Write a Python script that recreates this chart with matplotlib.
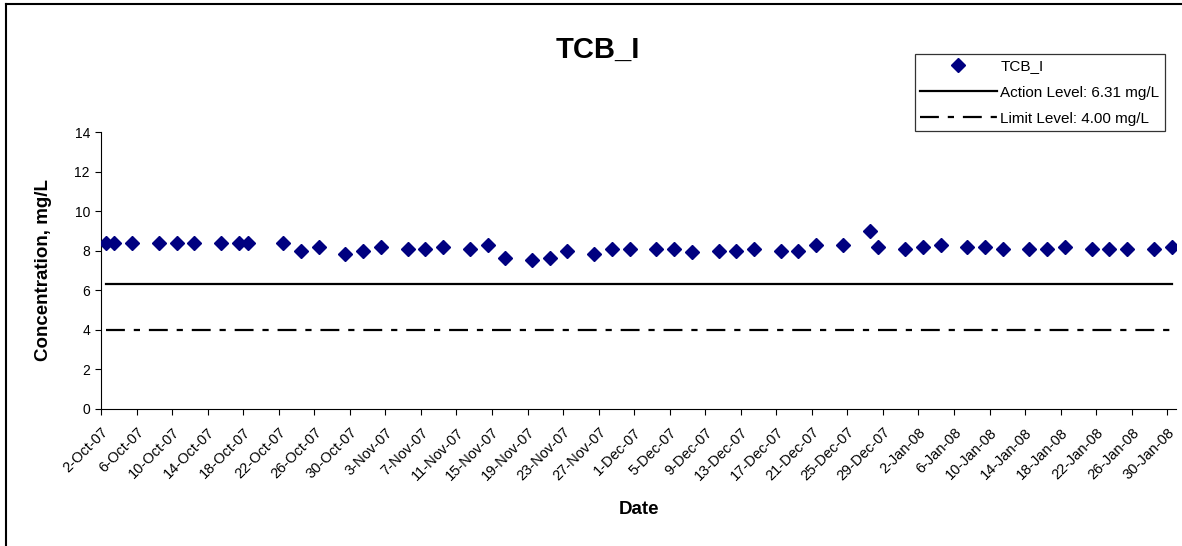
import datetime as dt
import matplotlib
matplotlib.use("Agg")
import matplotlib.pyplot as plt
from matplotlib.lines import Line2D

plt.rcParams['font.family'] = ['Liberation Sans', 'DejaVu Sans']

# sample dates and TCB_I concentrations (mg/L)
sample_dates = [
    "2007-10-02", "2007-10-03", "2007-10-05", "2007-10-08", "2007-10-10",
    "2007-10-12", "2007-10-15", "2007-10-17", "2007-10-18", "2007-10-22",
    "2007-10-24", "2007-10-26", "2007-10-29", "2007-10-31", "2007-11-02",
    "2007-11-05", "2007-11-07", "2007-11-09", "2007-11-12", "2007-11-14",
    "2007-11-16", "2007-11-19", "2007-11-21", "2007-11-23", "2007-11-26",
    "2007-11-28", "2007-11-30", "2007-12-03", "2007-12-05", "2007-12-07",
    "2007-12-10", "2007-12-12", "2007-12-14", "2007-12-17", "2007-12-19",
    "2007-12-21", "2007-12-24", "2007-12-27", "2007-12-28", "2007-12-31",
    "2008-01-02", "2008-01-04", "2008-01-07", "2008-01-09", "2008-01-11",
    "2008-01-14", "2008-01-16", "2008-01-18", "2008-01-21", "2008-01-23",
    "2008-01-25", "2008-01-28", "2008-01-30",
]
tcb_values = [
    8.4, 8.4, 8.4, 8.4, 8.4,
    8.4, 8.4, 8.4, 8.4, 8.4,
    8.0, 8.2, 7.8, 8.0, 8.2,
    8.1, 8.1, 8.2, 8.1, 8.3,
    7.6, 7.5, 7.6, 8.0, 7.8,
    8.1, 8.1, 8.1, 8.1, 7.9,
    8.0, 8.0, 8.1, 8.0, 8.0,
    8.3, 8.3, 9.0, 8.2, 8.1,
    8.2, 8.3, 8.2, 8.2, 8.1,
    8.1, 8.1, 8.2, 8.1, 8.1,
    8.1, 8.1, 8.2,
]
action_level = 6.31
limit_level = 4.00
axis_start = "2007-10-02"
axis_end = "2008-01-31"
tick_step_days = 4

# Excel date axis puts each point in the middle of its day
dates = [dt.datetime.strptime(d, "%Y-%m-%d") + dt.timedelta(hours=12) for d in sample_dates]
x_min = dt.datetime.strptime(axis_start, "%Y-%m-%d")
x_max = dt.datetime.strptime(axis_end, "%Y-%m-%d")

fig = plt.figure(figsize=(11.82, 5.46), dpi=100)
ax = fig.add_axes([0.0855, 0.2518, 0.9095, 0.5064])

ax.plot(dates, tcb_values, linestyle='none', marker='D', markersize=7,
        color='#000080', label='TCB_I', zorder=3)
ax.plot([dates[0], dates[-1]], [action_level, action_level], color='black',
        lw=1.6, label=f'Action Level: {action_level:.2f} mg/L')
ax.plot([dates[0], dates[-1]], [limit_level, limit_level], color='black',
        lw=1.6, linestyle=(0, (8.5, 4.0, 2.8, 4.0)),
        label=f'Limit Level: {limit_level:.2f} mg/L')

ax.set_xlim(x_min, x_max)
ax.set_ylim(0, 14)
ax.set_yticks(range(0, 15, 2))
ticks = []
t = x_min
while t <= x_max:
    ticks.append(t)
    t += dt.timedelta(days=tick_step_days)
ax.set_xticks(ticks)
ax.set_xticklabels([f"{d.day}-{d.strftime('%b-%y')}" for d in ticks],
                   rotation=45, ha='right', va='top', rotation_mode='anchor')

for side in ('top', 'right'):
    ax.spines[side].set_visible(False)
for side in ('left', 'bottom'):
    ax.spines[side].set_linewidth(0.8)
    ax.spines[side].set_color('black')
ax.tick_params(axis='both', direction='out', length=4, width=0.8,
               colors='black')
ax.tick_params(axis='y', pad=4, labelsize=10)
ax.tick_params(axis='x', pad=8, labelsize=10.5)

fig.text(0.506, 0.908, 'TCB_I', fontsize=21, fontweight='bold',
         ha='center', va='center')
fig.text(0.0364, 0.5055, 'Concentration, mg/L', fontsize=13.5,
         fontweight='bold', rotation=90, ha='center', va='center')
fig.text(0.5406, 0.066, 'Date', fontsize=13.5, fontweight='bold',
         ha='center', va='center')

leg = ax.legend(loc='upper left', bbox_to_anchor=(0.774, 0.901),
                bbox_transform=fig.transFigure, fontsize=11, frameon=True,
                fancybox=False, handlelength=5.0, handletextpad=0.25,
                labelspacing=0.8, borderpad=0.35, borderaxespad=0)
leg.get_frame().set_edgecolor('black')
leg.get_frame().set_linewidth(0.9)

# outer chart frame (only top and left edges show in the crop)
fig.add_artist(Line2D([6 / 1182, 1], [1 - 4 / 546, 1 - 4 / 546],
                      transform=fig.transFigure, color='black', lw=1.5))
fig.add_artist(Line2D([6 / 1182, 6 / 1182], [0, 1 - 4 / 546],
                      transform=fig.transFigure, color='black', lw=1.5))

fig.savefig('out.png', dpi=100)
